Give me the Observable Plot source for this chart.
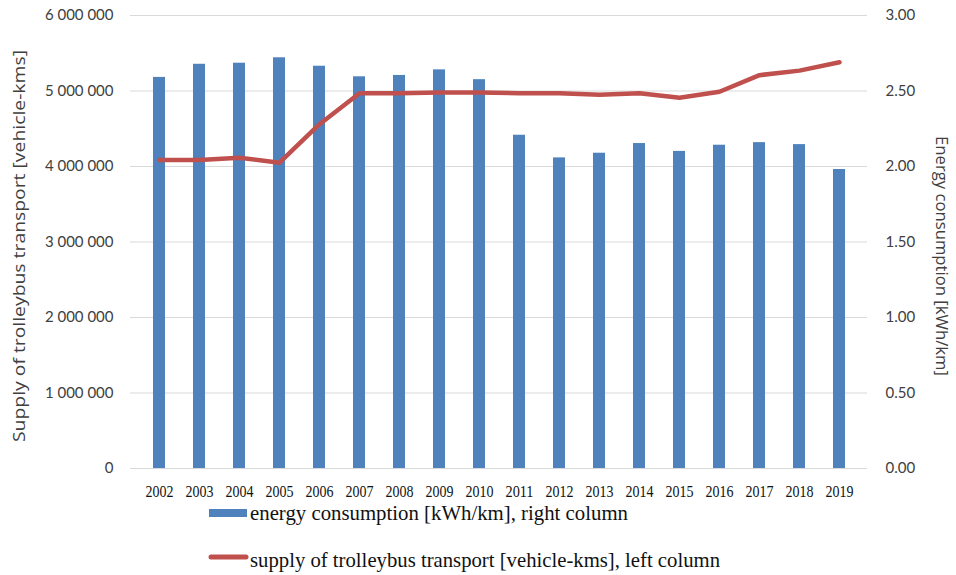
<!DOCTYPE html>
<html>
<head>
<meta charset="utf-8">
<script src="https://cdn.jsdelivr.net/npm/d3@7"></script>
<script src="https://cdn.jsdelivr.net/npm/@observablehq/plot@0.6"></script>
<style>
  html, body { margin: 0; padding: 0; background: #fff; }
  #wrap { position: relative; width: 956px; height: 575px; overflow: hidden; }
  #legend { position: absolute; left: 0; top: 500px; }
</style>
</head>
<body>
<div id="wrap">
  <div id="chart"></div>
  <svg id="legend" width="956" height="75"></svg>
</div>
<script>
// ---- data ----
const years = ["2002","2003","2004","2005","2006","2007","2008","2009","2010",
               "2011","2012","2013","2014","2015","2016","2017","2018","2019"];
// energy consumption [kWh/km] (right axis, bars)
const energy = [2.59, 2.677, 2.684, 2.72, 2.664, 2.594, 2.603, 2.64, 2.575,
                2.207, 2.057, 2.088, 2.152, 2.10, 2.141, 2.158, 2.145, 1.98];
// supply of trolleybus transport [vehicle-kms] (left axis, line)
const supply = [4085000, 4085000, 4115000, 4050000, 4560000, 4970000, 4970000, 4980000, 4980000,
                4970000, 4970000, 4950000, 4970000, 4910000, 4990000, 5210000, 5270000, 5380000];
const leftTicks = [0, 1000000, 2000000, 3000000, 4000000, 5000000, 6000000];
const leftMax = 6000000;
const rightMax = 3;
const leftTitle = "Supply of trolleybus transport [vehicle-kms]";
const rightTitle = "Energy consumption [kWh/km]";
const legendLabels = ["energy consumption [kWh/km], right column",
                      "supply of trolleybus transport [vehicle-kms], left column"];

const k = leftMax / rightMax;
const data = years.map((y, i) => ({year: y, energy: energy[i], supply: supply[i]}));
const fmtLeft = d => d3.format(",")(d).replace(/,/g, " ");
const fmtRight = d => (d / k).toFixed(2);

const BLUE = "#4F81BD", RED = "#C0504D";
const SERIF = "Liberation Serif";

const chart = Plot.plot({
  width: 956,
  height: 500,
  marginTop: 15,
  marginBottom: 32,
  marginLeft: 130,
  marginRight: 89,
  style: {background: "white", fontFamily: "Lato"},
  x: {domain: years, paddingInner: 0.71, paddingOuter: 0.355},
  y: {domain: [0, leftMax]},
  marks: [
    Plot.gridY(leftTicks, {stroke: "#d9d9d9", strokeOpacity: 1, strokeWidth: 1.2}),
    Plot.barY(data, {x: "year", y: d => d.energy * k, fill: BLUE}),
    Plot.line(data, {x: "year", y: "supply", stroke: RED, strokeWidth: 4.5, strokeLinejoin: "round", strokeLinecap: "round"}),
    Plot.axisY(leftTicks, {anchor: "left", tickSize: 0, tickPadding: 17, tickFormat: fmtLeft, label: null, fontSize: 15}),
    Plot.axisY(leftTicks, {anchor: "right", tickSize: 0, tickPadding: 18, tickFormat: fmtRight, label: null, fontSize: 15}),
    Plot.axisX({tickSize: 0, tickPadding: 16, label: null, fontSize: 17, fontFamily: SERIF}),
    Plot.text([leftTitle], {frameAnchor: "left", textAnchor: "middle", dx: -111, dy: 4, rotate: -90, text: d => d, fontSize: 16, fill: "#404040", fontFamily: "Open Sans"}),
    Plot.text([rightTitle], {frameAnchor: "right", textAnchor: "middle", dx: 74, dy: 14, rotate: 90, text: d => d, fontSize: 16, fill: "#404040", fontFamily: "Open Sans"})
  ]
});
document.getElementById("chart").appendChild(chart);

const svg = d3.select(chart);
svg.selectAll('g[aria-label="y-axis tick label"] text')
  .attr("fill", "#404040");
svg.selectAll('g[aria-label="x-axis tick label"] text')
  .attr("fill", "#111").attr("font-family", SERIF).style("font-family", SERIF)
  .attr("textLength", 28).attr("lengthAdjust", "spacingAndGlyphs");
svg.selectAll('g[aria-label="text"] text').each(function() {
  const t = d3.select(this);
  const s = t.text();
  t.attr("textLength", s === leftTitle ? 392 : 240)
   .attr("lengthAdjust", "spacingAndGlyphs");
});

// ---- legend ----
const lg = d3.select("#legend");
lg.append("rect").attr("x", 209).attr("y", 9).attr("width", 38).attr("height", 8).attr("fill", BLUE);
lg.append("text").attr("x", 250).attr("y", 20).text(legendLabels[0])
  .attr("font-family", SERIF).attr("font-size", 21).attr("fill", "#111")
  .attr("textLength", 378).attr("lengthAdjust", "spacingAndGlyphs");
lg.append("line").attr("x1", 211).attr("x2", 246).attr("y1", 57).attr("y2", 57)
  .attr("stroke", RED).attr("stroke-width", 5).attr("stroke-linecap", "round");
lg.append("text").attr("x", 250).attr("y", 67).text(legendLabels[1])
  .attr("font-family", SERIF).attr("font-size", 21).attr("fill", "#111")
  .attr("textLength", 470).attr("lengthAdjust", "spacingAndGlyphs");
</script>
</body>
</html>
